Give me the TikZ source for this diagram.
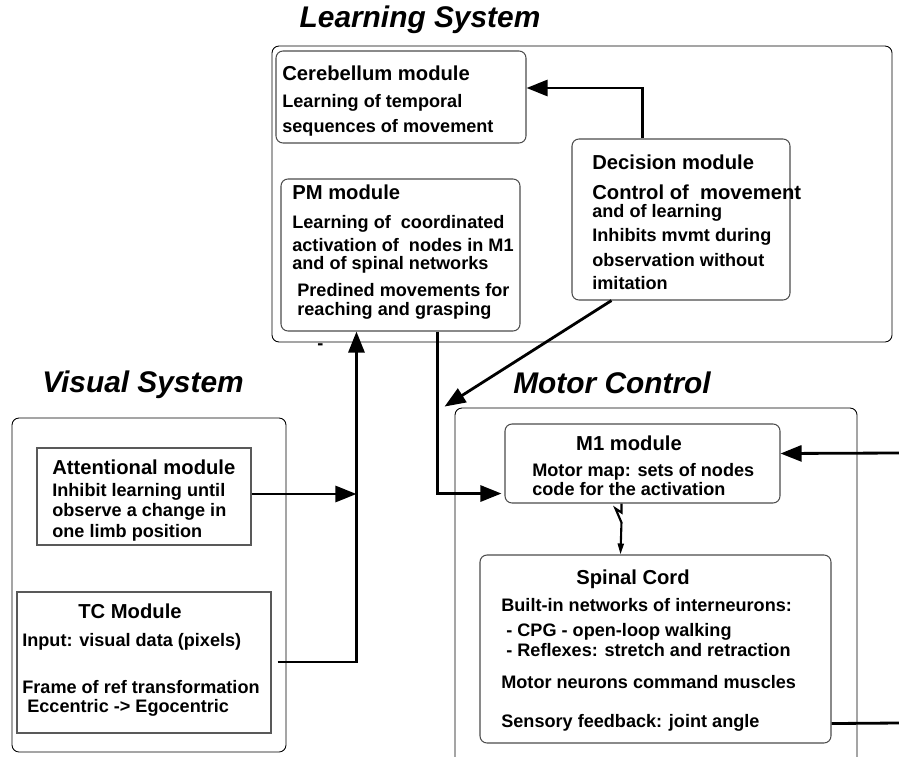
\documentclass[tikz,border=0pt]{standalone}
\usepackage{fontspec}
\setmainfont{Liberation Sans}
\usetikzlibrary{positioning,calc,fit,arrows.meta}

\tikzset{
  sysbox/.style={draw=black, line width=0.5pt, rounded corners=4pt, inner sep=0pt},
  modbox/.style={draw=black!70, line width=0.6pt, rounded corners=4pt, inner sep=0pt},
  sqbox/.style={draw=black!65, line width=0.6pt, inner sep=0pt},
  conn/.style={line width=1.6pt, -{Triangle[length=0.42cm,width=0.32cm]}},
  plain/.style={line width=1.6pt},
  systitle/.style={inner sep=0pt, font=\fontsize{17}{20}\selectfont\bfseries\itshape},
  modtitle/.style={anchor=west, inner sep=0pt, font=\fontsize{11.5}{13}\selectfont\bfseries},
  modtext/.style={anchor=west, inner sep=0pt, font=\fontsize{10.3}{12}\selectfont\bfseries},
}

\begin{document}
\begin{tikzpicture}[x=0.02cm, y=-0.02cm]
    \useasboundingbox (0,0) rectangle (899,757);

    % system frames
    \node[sysbox, fit={(272,46) (892,342)}] (learn) {};
    \node[sysbox, fit={(12,418) (286,752)}] (visual) {};
    \node[sysbox, fit={(455,408) (857,770)}] (motor) {};
    \node[systitle] (learntitle) at (420,20) {Learning System};
    \node[systitle] (visualtitle) at (143,385) {Visual System};
    \node[systitle] (motortitle) at (612,383) {Motor Control};

    % learning system modules
    \node[modbox, fit={(276,51) (526,143)}] (cereb) {};
    \node[modtitle] at (282,73) {Cerebellum module};
    \node[modtext] at (282,103) {Learning of temporal};
    \node[modtext] at (282,128) {sequences of movement};

    \node[modbox, fit={(572,139) (790,300)}] (decision) {};
    \node[modtitle] at (592,162) {Decision module};
    \node[modtitle] at (592,192) {Control of\ \ movement};
    \node[modtext] at (592,213) {and of learning};
    \node[modtext] at (592,237) {Inhibits mvmt during};
    \node[modtext] at (592,260) {observation without};
    \node[modtext] at (592,283) {imitation};

    \node[modbox, fit={(281,179) (520,331)}] (pm) {};
    \node[modtitle] at (292,192) {PM module};
    \node[modtext] at (292,224) {Learning of\ \ coordinated};
    \node[modtext] at (292,245) {activation of\ \ nodes in M1};
    \node[modtext] at (292,265) {and of spinal networks};
    \node[modtext] at (297,290) {Predined movements for};
    \node[modtext] at (297,311) {reaching and grasping};
    \node[modtext] (dash) at (317,347) {-};

    % visual system modules
    \node[sqbox, fit={(37,448) (251,545)}] (attn) {};
    \node[modtitle] at (52,467) {Attentional module};
    \node[modtext] at (52,492) {Inhibit learning until};
    \node[modtext] at (52,512) {observe a change in};
    \node[modtext] at (52,533) {one limb position};

    \node[sqbox, fit={(17,592) (271,733)}] (tc) {};
    \node[modtitle, anchor=center] at (130,611) {TC Module};
    \node[modtext] at (22,642) {Input: visual data (pixels)};
    \node[modtext] at (22,687) {Frame of ref transformation};
    \node[modtext] at (27,708) {Eccentric -> Egocentric};

    % motor control modules
    \node[modbox, fit={(505,424) (780,503)}] (m1) {};
    \node[modtitle, anchor=center] at (629,443) {M1 module};
    \node[modtext] at (532,472) {Motor map: sets of nodes};
    \node[modtext] at (532,489) {code for the activation};

    \node[modbox, fit={(480,555) (831,743)}] (spinal) {};
    \node[modtitle, anchor=center] at (633,579) {Spinal Cord};
    \node[modtext] at (501,605) {Built-in networks of interneurons:};
    \node[modtext] at (501,632) {\ - CPG - open-loop walking};
    \node[modtext] at (501,650) {\ - Reflexes: stretch and retraction};
    \node[modtext] at (501,682) {Motor neurons command muscles};
    \node[modtext] at (501,723) {Sensory feedback: joint angle};

    % connectors
    \coordinate (pmin) at ($(pm.south west)+(76,0)$);
    \coordinate (pmout) at ($(pm.south west)+(157,0)$);
    \coordinate (tcout) at ($(tc.east)+(6,-0.5)$);
    \coordinate (motortip) at ($(motor.north west)+(-10,-1)$);
    \coordinate (fbin) at (899,453);
    \coordinate (fbout) at (899,723);

    \draw[conn] ($(decision.north west)+(71,0)$) |- ($(cereb.east)+(0,-9)$);
    \draw[conn] ($(decision.south west)+(40,0)$) -- (motortip);
    \draw[conn] (tcout) -| (pmin);
    \draw[conn] (attn.east |- 0,494) -- (pmin |- 0,494);
    \draw[conn] (pmout) |- ($(m1.south west)+(-3,-10)$);
    \draw[conn] (fbin) -- ($(m1.east)+(0,-10)$);
    \draw[plain] ($(spinal.south east)+(0,-20)$) -- (fbout);
    \draw[line width=1.2pt, -{Triangle[length=0.22cm,width=0.12cm]}]
        ($(m1.south west)+(117,0)$) -- ++(0,9) -- ++(-6,-4) -- ++(6,14)
        -- ($(spinal.north west)+(141,0)$);
\end{tikzpicture}
\end{document}
